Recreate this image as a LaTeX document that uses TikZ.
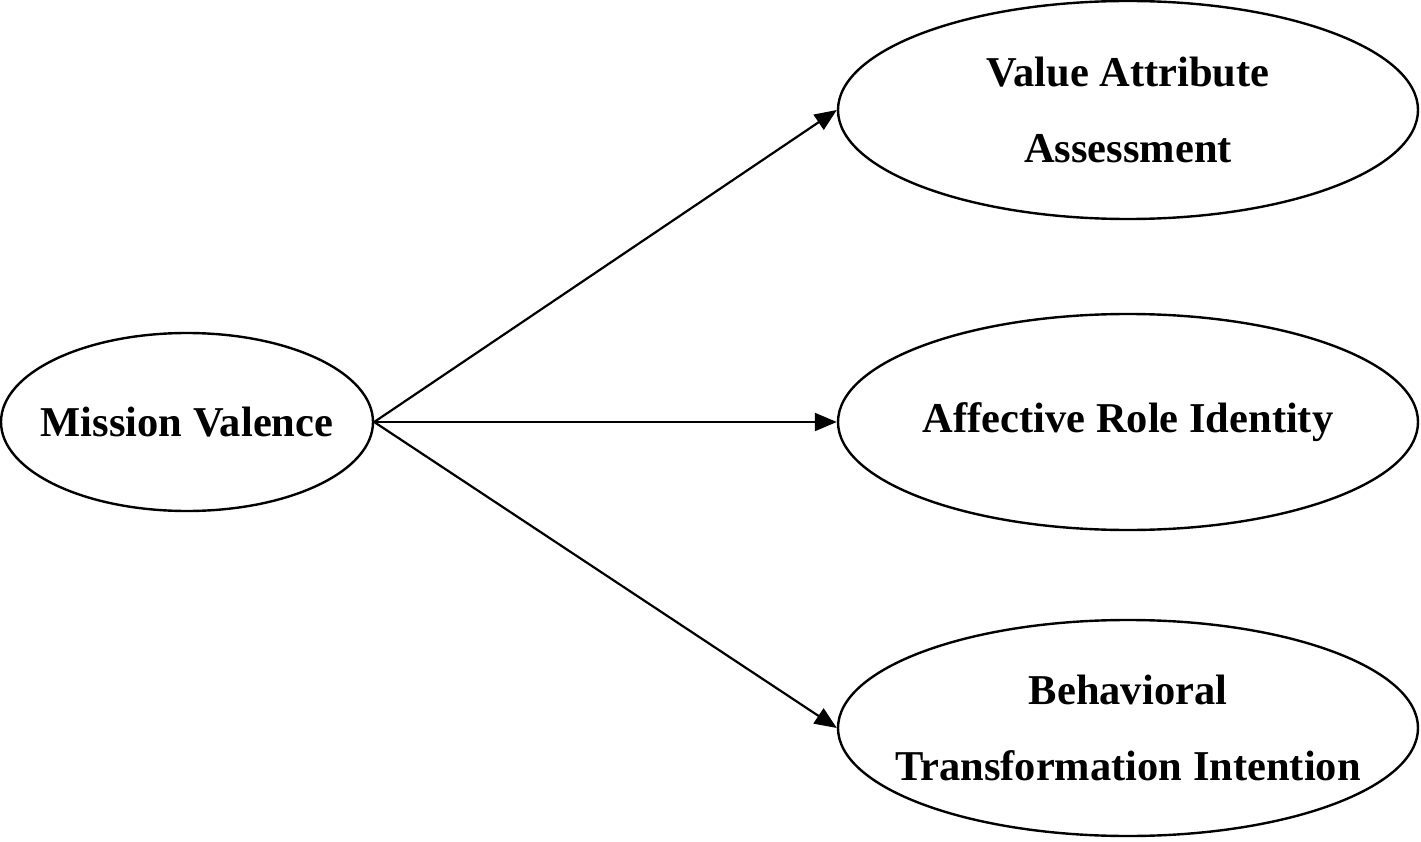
\documentclass[tikz,border=0pt]{standalone}
\usepackage{fontspec}
\setmainfont{Liberation Serif}
\usetikzlibrary{shapes.geometric, arrows.meta, positioning}
\begin{document}
\begin{tikzpicture}[x=1pt, y=-1pt,
    construct/.style={draw, ellipse, line width=2.4pt, inner sep=0pt},
    caption/.style={align=center, font=\fontsize{42.5}{76}\selectfont\bfseries},
    path/.style={-{Triangle[length=22pt, width=18pt]}, line width=2.2pt}]
    \useasboundingbox (0,0) rectangle (1421,842);
    % constructs
    \node[construct, minimum width=372pt, minimum height=178pt] (mv) at (187,422) {};
    \node[construct, minimum width=580pt, minimum height=218pt] (va) at (1128,110) {};
    \node[construct, minimum width=580pt, minimum height=216pt] (ar) at (1128,422) {};
    \node[construct, minimum width=580pt, minimum height=216pt] (bt) at (1128,728) {};
    \node[caption] (mvt) at (mv.center) {Mission Valence};
    \node[caption] (vat) at (va.center) {Value Attribute\\Assessment};
    \node[caption] (art) at (ar.center) {Affective Role Identity};
    \node[caption] (btt) at (bt.center) {Behavioral\\Transformation Intention};
    % paths
    \draw[path] (mv.east) -- (va.west);
    \draw[path] (mv.east) -- (ar.west);
    \draw[path] (mv.east) -- (bt.west);
\end{tikzpicture}
\end{document}
